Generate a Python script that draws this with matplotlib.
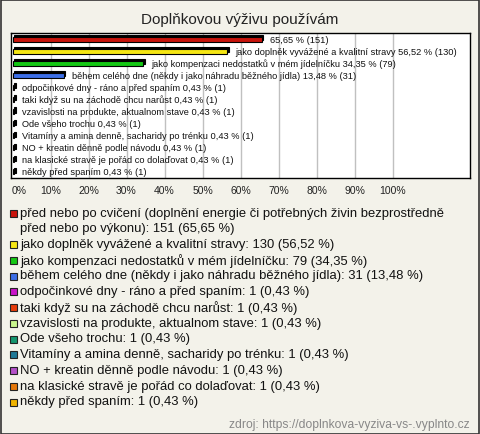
import matplotlib
matplotlib.use('Agg')
import matplotlib.pyplot as plt
from matplotlib.patches import Rectangle

plt.rcParams['font.family'] = ['Liberation Sans', 'DejaVu Sans']

# data
labels = [
    'před nebo po cvičení (doplnění energie či potřebných živin bezprostředně před nebo po výkonu)',
    'jako doplněk vyvážené a kvalitní stravy',
    'jako kompenzaci nedostatků v mém jídelníčku',
    'během celého dne (někdy i jako náhradu běžného jídla)',
    'odpočinkové dny - ráno a před spaním',
    'taki když su na záchodě chcu narůst',
    'vzavislosti na produkte, aktualnom stave',
    'Ode všeho trochu',
    'Vitamíny a amina denně, sacharidy po trénku',
    'NO + kreatin děnně podle návodu',
    'na klasické stravě je pořád co dolaďovat',
    'někdy před spaním',
]
counts = [151, 130, 79, 31, 1, 1, 1, 1, 1, 1, 1, 1]
percents = [65.65, 56.52, 34.35, 13.48, 0.43, 0.43, 0.43, 0.43, 0.43, 0.43, 0.43, 0.43]
colors = ['#c8140c', '#f5e614', '#14c814', '#3c6ee6', '#c814c8', '#e63c0a',
          '#c8f58c', '#14966e', '#1e7896', '#b450c8', '#e6780a', '#f0b400']

W, H = 480, 435
bg = '#f3f2ea'
fig = plt.figure(figsize=(W / 100, H / 100), dpi=100, facecolor=bg)

# outer frame
fig.patches.append(Rectangle((0.5 / W, 0.5 / H), 1 - 1.5 / W, 1 - 1.5 / H,
                             transform=fig.transFigure, fill=False,
                             edgecolor='#333333', lw=1.2))

fig.text(0.5, 1 - 20 / H, 'Doplňkovou výživu používám', ha='center', va='center',
         fontsize=11, color='#222222')

# plot area in pixels: left 11, right 470, top 34, bottom 179
ax = fig.add_axes([11 / W, 1 - 179 / H, 459 / W, 145 / H])
ax.set_facecolor('white')
px = 100 / 380.0   # data units per pixel in x
ax.set_xlim(-1.5 * px, (459 - 1.5) * px)
ax.set_ylim(len(labels) - 0.5, -0.5)

for g in range(10, 101, 10):
    ax.axvline(g, color='#c0c0c0', lw=1, zorder=0)

h = 0.42
dx = 1.5 * px
dy = 1.5 / 12.0
for i in range(len(labels)):
    v = percents[i]
    # 3d shadow
    ax.add_patch(Rectangle((dx, i - h / 2 - dy), v, h, facecolor='black',
                           edgecolor='black', lw=0.8, zorder=2))
    ax.add_patch(Rectangle((0, i - h / 2), v, h, facecolor=colors[i],
                           edgecolor='black', lw=0.8, zorder=3))
    v_str = ('%.2f' % v).replace('.', ',')
    if i == 0:
        txt = '%s %% (%d)' % (v_str, counts[i])
    else:
        txt = '%s %s %% (%d)' % (labels[i], v_str, counts[i])
    ax.text(v + 8 * px, i, txt, va='center', ha='left', fontsize=6.7,
            color='#111111', zorder=4)

ax.set_xticks([])
ax.set_yticks([])
for s in ax.spines.values():
    s.set_color('black')
    s.set_linewidth(1)

for g in range(0, 101, 10):
    xpix = 12.5 + g * 3.8
    fig.text(xpix / W if g else 12 / W, 1 - 191 / H, '%d%%' % g,
             ha='center' if g else 'left', va='center', fontsize=7.5,
             color='#222222')

# legend
y = 213.5
for i in range(len(labels)):
    v_str = ('%.2f' % percents[i]).replace('.', ',')
    entry = '%s: %d (%s %%)' % (labels[i], counts[i], v_str)
    if i == 0:
        lines = [entry[:72], entry[73:]]
    else:
        lines = [entry]
    fig.patches.append(Rectangle((10 / W, 1 - (y + 4) / H), 7 / W, 7 / H,
                                 transform=fig.transFigure, facecolor=colors[i],
                                 edgecolor='#222222', lw=0.8))
    for ln in lines:
        fig.text(20 / W, 1 - y / H, ln, ha='left', va='center',
                 fontsize=9.4, color='#111111')
        y += 15.75

fig.text(470 / W, 1 - 425 / H, 'zdroj: https://doplnkova-vyziva-vs-.vyplnto.cz',
         ha='right', va='center', fontsize=8.7, color='#888888')

fig.savefig('out.png', dpi=100, facecolor=bg)
